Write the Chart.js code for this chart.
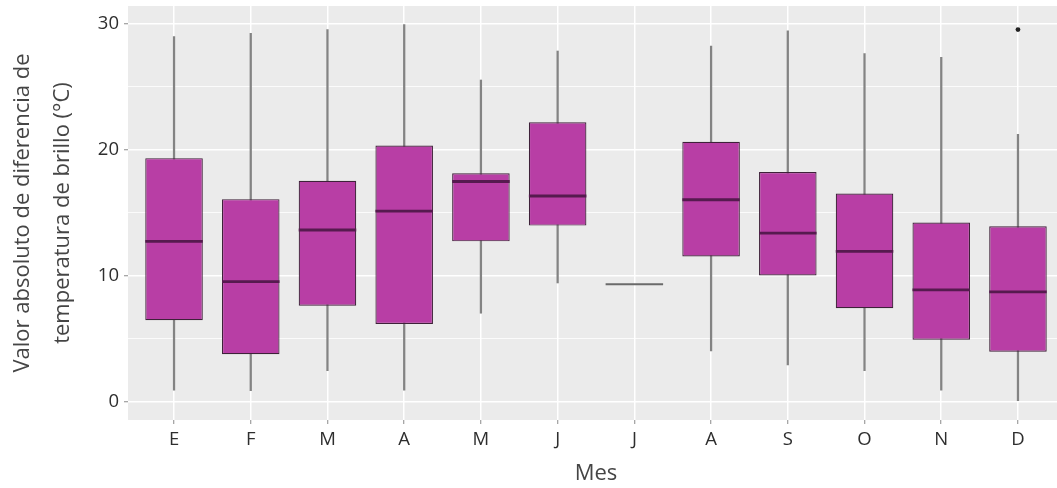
<!DOCTYPE html>
<html>
<head>
<meta charset="utf-8">
<script src="https://cdn.jsdelivr.net/npm/chart.js@4.4.1/dist/chart.umd.min.js"></script>
<style>
  body { margin: 0; background: #ffffff; overflow: hidden; }
  #wrap { width: 1057px; height: 488px; overflow: hidden; }
</style>
</head>
<body>
<div id="wrap"><canvas id="box" width="1066" height="488"></canvas></div>
<script>
// months (x categories)
const months = ["E", "F", "M", "A", "M", "J", "J", "A", "S", "O", "N", "D"];
// box statistics per month
const whiskerLow = [0.9, 0.86, 2.45, 0.9, 7.0, 9.4, 9.3, 4.0, 2.9, 2.45, 0.9, 0.0];
const q1 = [6.45, 3.75, 7.6, 6.15, 12.7, 13.95, 9.3, 11.5, 10.0, 7.4, 4.9, 3.95];
const median = [12.7, 9.5, 13.6, 15.1, 17.45, 16.3, 9.3, 16.0, 13.35, 11.9, 8.85, 8.7];
const q3 = [19.3, 16.05, 17.5, 20.3, 18.1, 22.15, 9.3, 20.6, 18.2, 16.5, 14.2, 13.9];
const whiskerHigh = [28.95, 29.2, 29.5, 29.9, 25.5, 27.8, 9.3, 28.2, 29.4, 27.6, 27.3, 21.2];
// outliers: month index and value
const outlierMonth = [11];
const outlierValue = [29.5];

const boxFill = "#b83ea5";
const boxLine = "#3e2139";

// background panel like ggplot
const panelBg = {
  id: "panelBg",
  beforeDraw(chart) {
    const a = chart.chartArea;
    const c = chart.ctx;
    c.save();
    c.fillStyle = "#ebebeb";
    c.fillRect(a.left, a.top, a.right - a.left, a.bottom - a.top);
    c.restore();
  }
};

const flat = (i) => q1[i] === q3[i];

new Chart(document.getElementById("box"), {
  type: "bar",
  plugins: [panelBg],
  data: {
    datasets: [
      {
        // whiskers
        order: 3,
        grouped: false,
        data: months.map((m, i) => ({ x: i, y: flat(i) ? null : [whiskerLow[i], whiskerHigh[i]] })),
        backgroundColor: "#838383",
        barThickness: 1.6,
        borderWidth: 0
      },
      {
        // boxes
        order: 2,
        grouped: false,
        data: months.map((m, i) => ({ x: i, y: flat(i) ? null : [q1[i], q3[i]] })),
        backgroundColor: boxFill,
        borderColor: boxLine,
        borderWidth: 1.2,
        borderSkipped: false,
        barPercentage: 0.75,
        categoryPercentage: 1
      },
      {
        // medians
        type: "line",
        order: 1,
        showLine: false,
        data: months.map((m, i) => ({ x: i, y: median[i] })),
        pointStyle: "line",
        pointRadius: 28.75,
        pointBorderWidth: months.map((m, i) => flat(i) ? 2.2 : 2.8),
        pointBorderColor: months.map((m, i) => flat(i) ? "#6a6a6a" : "#561a4f"),
        pointBackgroundColor: "transparent"
      },
      {
        // outliers
        type: "line",
        order: 0,
        showLine: false,
        data: outlierMonth.map((m, k) => ({ x: m, y: outlierValue[k] })),
        pointRadius: 2.4,
        pointBorderWidth: 0,
        pointBackgroundColor: "#222222"
      }
    ]
  },
  options: {
    responsive: false,
    animation: false,
    events: [],
    devicePixelRatio: 1,
    layout: { autoPadding: false, padding: { top: 6, right: 2, left: 0, bottom: 0 } },
    plugins: {
      legend: { display: false },
      tooltip: { enabled: false }
    },
    scales: {
      x: {
        type: "linear",
        offset: false,
        min: -0.6,
        max: 11.6,
        afterBuildTicks: (axis) => { axis.ticks = months.map((m, i) => ({ value: i })); },
        afterFit: (axis) => {
          axis.height = 68;
          axis.paddingLeft = 0;
          axis.paddingRight = 0;
        },
        border: { display: false },
        grid: {
          offset: false,
          color: "#ffffff",
          lineWidth: 1.5,
          drawTicks: true,
          tickLength: 4,
          tickColor: "#8a8a8a",
          tickWidth: 1
        },
        ticks: {
          padding: 5,
          color: "#2e2e2e",
          font: { family: "Open Sans", size: 18.5 },
          callback: (v) => months[v]
        },
        title: {
          display: true,
          text: "Mes",
          color: "#454545",
          padding: { top: 0, bottom: 1 },
          font: { family: "Open Sans", size: 22, lineHeight: 1.2 }
        }
      },
      y: {
        min: -1.47,
        max: 31.37,
        afterBuildTicks: (axis) => { axis.ticks = [0, 5, 10, 15, 20, 25, 30].map((v) => ({ value: v })); },
        afterFit: (axis) => {
          axis.width = 128;
          axis.paddingTop = 0;
          axis.paddingBottom = 0;
        },
        border: { display: false },
        grid: {
          color: "#ffffff",
          lineWidth: (ctx) => (ctx.tick && ctx.tick.value % 10 === 0 ? 1.5 : 0.8),
          drawTicks: true,
          tickLength: 4,
          tickColor: (ctx) => (ctx.tick && ctx.tick.value % 10 === 0 ? "#8a8a8a" : "transparent"),
          tickWidth: 1
        },
        ticks: {
          padding: 5,
          color: "#2e2e2e",
          font: { family: "Open Sans", size: 18.5 },
          callback: (v) => (v % 10 === 0 ? v : "")
        },
        title: {
          display: true,
          text: ["Valor absoluto de diferencia de", "temperatura de brillo (°C)"],
          color: "#454545",
          padding: { top: 2.5, bottom: 0 },
          font: { family: "Open Sans", size: 22, lineHeight: 1.82 }
        }
      }
    }
  }
});
</script>
</body>
</html>
